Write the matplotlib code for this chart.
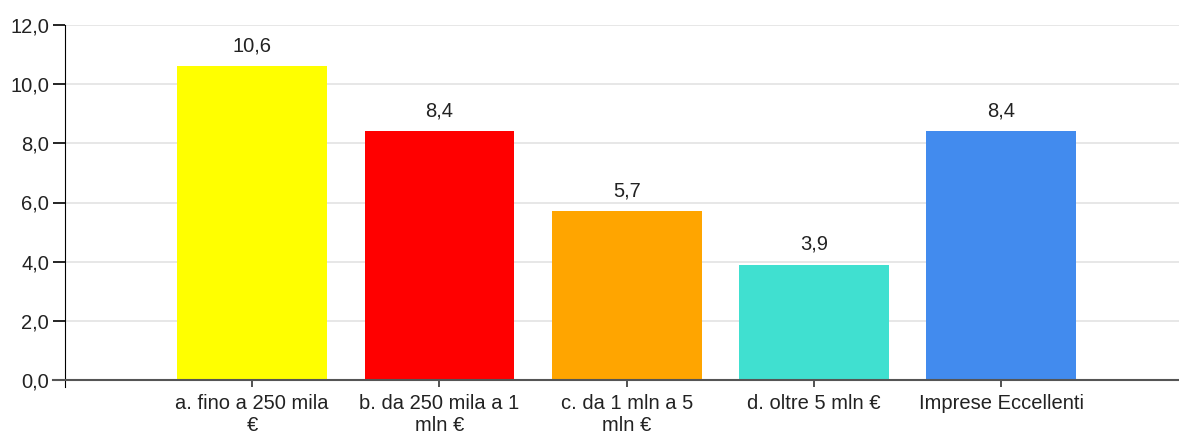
import matplotlib.pyplot as plt
from matplotlib.ticker import FuncFormatter

categories = [
    "a. fino a 250 mila\n€",
    "b. da 250 mila a 1\nmln €",
    "c. da 1 mln a 5\nmln €",
    "d. oltre 5 mln €",
    "Imprese Eccellenti",
]
values = [10.6, 8.4, 5.7, 3.9, 8.4]
colors = ["#ffff00", "#ff0000", "#ffa500", "#40e0d0", "#428bee"]
y_ticks = [0, 2, 4, 6, 8, 10, 12]

plt.rcParams["font.family"] = ["Liberation Sans", "DejaVu Sans"]

FS = 14.5
W, H = 1179, 437
fig = plt.figure(figsize=(W / 100, H / 100), dpi=100)
ax = fig.add_axes([65 / W, (H - 380) / H, (W - 65) / W, 355 / H])

x = list(range(1, len(categories) + 1))
ax.bar(x, values, width=0.8, color=colors, zorder=2)

for xi, v in zip(x, values):
    ax.annotate(
        f"{v:.1f}".replace(".", ","),
        (xi, v),
        xytext=(0, 8),
        textcoords="offset points",
        ha="center",
        va="bottom",
        fontsize=FS,
        color="#222222",
    )

ax.set_xlim(0, 5.95)
ax.set_ylim(0, 12)
ax.set_yticks(y_ticks)
ax.yaxis.set_major_formatter(
    FuncFormatter(lambda v, _: f"{v:.1f}".replace(".", ","))
)
ax.set_xticks(x)
ax.set_xticklabels(categories, linespacing=1.2)

ax.grid(axis="y", color="#e3e3e3", linewidth=1.2, zorder=0)
ax.set_axisbelow(True)

for side in ("top", "right"):
    ax.spines[side].set_visible(False)
ax.spines["left"].set_color("black")
ax.spines["left"].set_bounds(-0.25, 12)
ax.spines["bottom"].set_color("#555555")
ax.spines["bottom"].set_linewidth(1.5)
ax.spines["bottom"].set_bounds(-0.065, 5.95)

ax.tick_params(axis="y", length=8.6, width=1.2, color="black",
               labelsize=FS, labelcolor="#222222", pad=3)
ax.tick_params(axis="x", length=5, width=1.2, color="#333333",
               labelsize=FS, labelcolor="#222222", pad=5)

fig.savefig("out.png", dpi=100)
